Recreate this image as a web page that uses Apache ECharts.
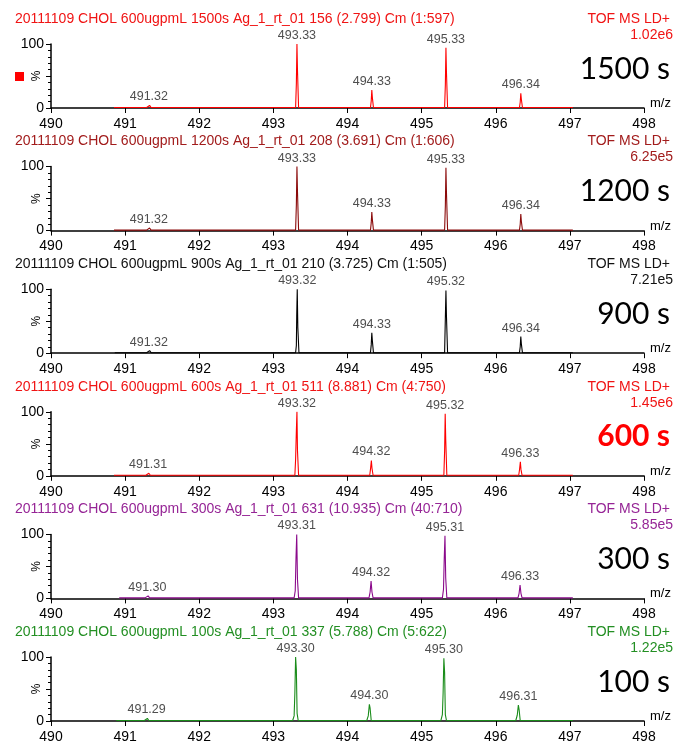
<!DOCTYPE html>
<html>
<head>
<meta charset="utf-8">
<script src="https://cdn.jsdelivr.net/npm/echarts@6/dist/echarts.min.js"></script>
<style>
  html, body { margin: 0; padding: 0; background: #fff; }
  #main { width: 677px; height: 746px; }
</style>
</head>
<body>
<div id="main"></div>
<script>
// acquisition times, headers and base-peak intensities (top to bottom)
var times = ["1500 s", "1200 s", "900 s", "600 s", "300 s", "100 s"];
var headers = [
  "20111109 CHOL 600ugpmL 1500s Ag_1_rt_01 156 (2.799) Cm (1:597)",
  "20111109 CHOL 600ugpmL 1200s Ag_1_rt_01 208 (3.691) Cm (1:606)",
  "20111109 CHOL 600ugpmL 900s Ag_1_rt_01 210 (3.725) Cm (1:505)",
  "20111109 CHOL 600ugpmL 600s Ag_1_rt_01 511 (8.881) Cm (4:750)",
  "20111109 CHOL 600ugpmL 300s Ag_1_rt_01 631 (10.935) Cm (40:710)",
  "20111109 CHOL 600ugpmL 100s Ag_1_rt_01 337 (5.788) Cm (5:622)"
];
var scanMode = "TOF MS LD+";
var basePeak = ["1.02e6", "6.25e5", "7.21e5", "1.45e6", "5.85e5", "1.22e5"];

// profile spectra, [m/z, % of base peak]
var spec1500 = [[490.85,0.8],[491.29,0.8],[491.31,3.5],[491.33,4],[491.35,0.8],[492.30,0.8],[492.32,1.8],[492.34,0.8],
  [493.30,0.8],[493.31,38],[493.318,100],[493.325,60],[493.34,0.8],[493.44,0.8],[493.45,1.6],[493.46,0.8],
  [494.31,0.8],[494.32,11],[494.328,28],[494.335,17],[494.35,0.8],[495.31,0.8],[495.32,36],[495.328,94],[495.335,56],[495.35,0.8],
  [495.46,0.8],[495.47,1.5],[495.48,0.8],[496.32,0.8],[496.33,9],[496.338,23],[496.345,14],[496.36,0.8],[497.04,0.8]];
var spec1200 = [[490.85,0.8],[491.29,0.8],[491.31,3.5],[491.33,4],[491.35,0.8],[492.30,0.8],[492.32,1.8],[492.34,0.8],
  [493.30,0.8],[493.31,40],[493.318,100],[493.325,62],[493.34,0.8],[493.44,0.8],[493.45,1.6],[493.46,0.8],
  [494.31,0.8],[494.32,12],[494.328,29],[494.335,18],[494.35,0.8],[495.31,0.8],[495.32,38],[495.328,98],[495.335,60],[495.35,0.8],
  [495.46,0.8],[495.47,1.5],[495.48,0.8],[496.32,0.8],[496.33,10],[496.338,26],[496.345,15],[496.36,0.8],[497.04,0.8]];
var spec900 = [[490.86,0.8],[491.29,0.8],[491.31,3.5],[491.33,4],[491.35,0.8],[492.30,0.8],[492.32,1.8],[492.34,0.8],
  [493.30,0.8],[493.31,12],[493.315,58],[493.322,100],[493.33,40],[493.345,0.8],[493.44,0.8],[493.45,1.6],[493.46,0.8],
  [494.31,0.8],[494.32,13],[494.328,32],[494.335,20],[494.35,0.8],[495.31,0.8],[495.32,55],[495.328,98],[495.335,58],[495.35,0.8],
  [495.46,0.8],[495.47,1.5],[495.48,0.8],[496.32,0.8],[496.33,10],[496.338,26],[496.345,15],[496.36,0.8],[497.04,0.8]];
var spec600 = [[490.85,0.8],[491.28,0.8],[491.30,3],[491.32,4],[491.34,0.8],[492.30,0.8],[492.32,1.8],[492.34,0.8],
  [493.29,0.8],[493.30,26],[493.31,70],[493.318,100],[493.325,40],[493.34,0.8],[493.44,0.8],[493.45,1.5],[493.46,0.8],
  [494.30,0.8],[494.31,10],[494.322,24],[494.33,12],[494.345,0.8],[495.30,0.8],[495.31,38],[495.318,97],[495.325,58],[495.34,0.8],
  [495.46,0.8],[495.47,1.5],[495.48,0.8],[496.31,0.8],[496.32,9],[496.332,22],[496.34,10],[496.355,0.8],[497.04,0.8]];
var spec300 = [[490.92,0.8],[491.27,0.8],[491.29,3],[491.31,4],[491.33,0.8],[492.29,0.8],[492.31,1.8],[492.33,0.8],
  [493.28,0.8],[493.295,12],[493.305,62],[493.315,100],[493.325,30],[493.34,0.8],
  [494.29,0.8],[494.305,10],[494.318,27],[494.33,10],[494.345,0.8],[495.28,0.8],[495.295,14],[495.305,62],[495.315,98],[495.325,32],[495.34,0.8],
  [496.30,0.8],[496.315,8],[496.328,21],[496.34,8],[496.355,0.8],[497.04,0.8]];
var spec100 = [[490.88,0.8],[491.26,0.8],[491.28,3.5],[491.30,4],[491.32,0.8],[492.28,0.8],[492.30,1.8],[492.32,0.8],
  [493.26,0.8],[493.28,8],[493.29,44],[493.30,100],[493.31,80],[493.32,12],[493.335,0.8],
  [494.26,0.8],[494.28,8],[494.295,26],[494.305,20],[494.32,0.8],[495.26,0.8],[495.28,10],[495.29,44],[495.30,98],[495.31,76],[495.32,10],[495.335,0.8],
  [496.27,0.8],[496.29,9],[496.305,25],[496.315,18],[496.33,0.8],[497.04,0.8]];
var spectra = [spec1500, spec1200, spec900, spec600, spec300, spec100];

// annotated peaks, [m/z position, height %, label]
var peaks1500 = [[491.32,4,"491.32"],[493.318,100,"493.33"],[494.328,28,"494.33"],[495.328,94,"495.33"],[496.338,23,"496.34"]];
var peaks1200 = [[491.32,4,"491.32"],[493.318,100,"493.33"],[494.328,29,"494.33"],[495.328,98,"495.33"],[496.338,26,"496.34"]];
var peaks900 = [[491.32,4,"491.32"],[493.322,100,"493.32"],[494.328,32,"494.33"],[495.328,98,"495.32"],[496.338,26,"496.34"]];
var peaks600 = [[491.31,4,"491.31"],[493.318,100,"493.32"],[494.322,24,"494.32"],[495.318,97,"495.32"],[496.332,22,"496.33"]];
var peaks300 = [[491.30,4,"491.30"],[493.315,100,"493.31"],[494.318,27,"494.32"],[495.315,98,"495.31"],[496.328,21,"496.33"]];
var peaks100 = [[491.29,4,"491.29"],[493.30,100,"493.30"],[494.295,26,"494.30"],[495.30,98,"495.30"],[496.305,25,"496.31"]];
var peakSets = [peaks1500, peaks1200, peaks900, peaks600, peaks300, peaks100];

var lineColors = ["#ff0000", "#8b0a0a", "#000000", "#ff0000", "#8b0a8b", "#1a8c1a"];
var textColors = ["#f01414", "#a21c1c", "#111111", "#f01414", "#962596", "#238f23"];

var chart = echarts.init(document.getElementById("main"));
var step = 122.6, top0 = 44, h = 64;
var grids = [], xAxes = [], yAxes = [], series = [], graphics = [];

for (var i = 0; i < 6; i++) {
  var y0 = top0 + step * i;
  grids.push({left: 51, right: 33, top: y0, height: h});
  xAxes.push({
    type: "value", gridIndex: i, min: 490, max: 498, interval: 1,
    name: "m/z", nameLocation: "end", nameGap: 6,
    nameTextStyle: {color: "#000", fontFamily: "Liberation Sans", fontSize: 13, verticalAlign: "bottom", padding: [0, 0, -2, 0]},
    axisLine: {onZero: false, lineStyle: {color: "#000", width: 1.5}},
    axisTick: {length: 5, lineStyle: {color: "#000"}},
    axisLabel: {color: "#000", fontFamily: "Liberation Sans", fontSize: 14, margin: 9},
    splitLine: {show: false}
  });
  yAxes.push({
    type: "value", gridIndex: i, min: 0, max: 100, interval: 50,
    axisLine: {show: true, lineStyle: {color: "#000", width: 1.5}},
    axisTick: {length: 5, lineStyle: {color: "#000"}},
    minorTick: {show: true, splitNumber: 5, length: 3, lineStyle: {color: "#000"}},
    axisLabel: {color: "#000", fontFamily: "Liberation Sans", fontSize: 14, margin: 7,
      formatter: function (v) { return v === 50 ? "" : v; }},
    splitLine: {show: false}
  });
  series.push({
    type: "line", xAxisIndex: i, yAxisIndex: i, data: spectra[i],
    symbol: "none", lineStyle: {color: lineColors[i], width: 1.1}, silent: true, z: 3
  });
  series.push({
    type: "scatter", xAxisIndex: i, yAxisIndex: i, symbolSize: 0,
    data: peakSets[i].map(function (p) { return {value: [p[0], p[1]], name: p[2]}; }),
    label: {show: true, position: "top", distance: 2, formatter: "{b}",
      color: "#222", fontFamily: "Liberation Sans", fontSize: 12.5},
    silent: true, z: 4
  });

  graphics.push({type: "text", x: 37, y: y0 + h / 2, rotation: Math.PI / 2,
    style: {text: "%", fill: "#000", font: "12px 'Liberation Sans'", textAlign: "center", textVerticalAlign: "middle"}});
  graphics.push({type: "text", left: 15, top: y0 - 32,
    style: {text: headers[i], fill: textColors[i], font: "14px 'Liberation Sans'"}});
  graphics.push({type: "text", right: 7, top: y0 - 32,
    style: {text: scanMode, fill: textColors[i], font: "14px 'Liberation Sans'", textAlign: "right"}});
  graphics.push({type: "text", right: 4, top: y0 - 16,
    style: {text: basePeak[i], fill: textColors[i], font: "14px 'Liberation Sans'", textAlign: "right"}});
  graphics.push({type: "text", right: 7, top: y0 + 10,
    style: {text: times[i], fill: i === 3 ? "#ff0000" : "#000",
      font: (i === 3 ? "bold " : "") + "30px Lato"}});
}
graphics.push({type: "rect", left: 15, top: 72, shape: {width: 9, height: 9}, style: {fill: "#ff0000"}});

chart.setOption({
  animation: false,
  grid: grids, xAxis: xAxes, yAxis: yAxes, series: series, graphic: graphics
});
</script>
</body>
</html>
